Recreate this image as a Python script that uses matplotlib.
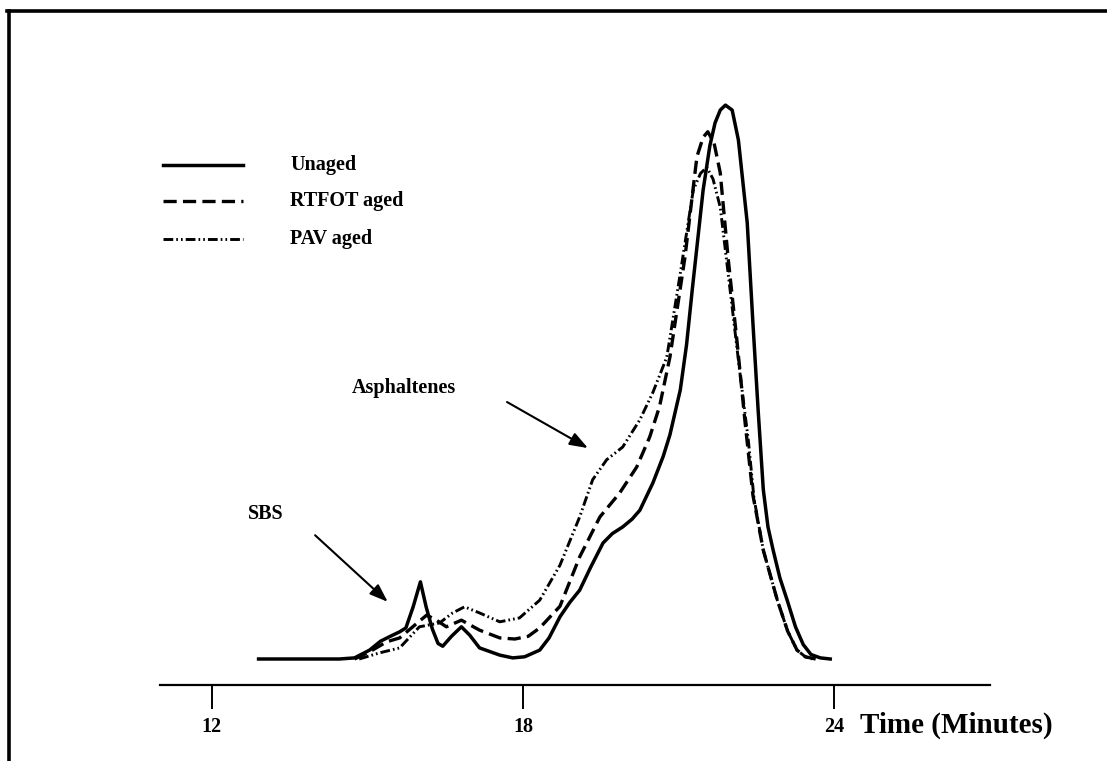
import matplotlib
matplotlib.use("Agg")
import matplotlib.pyplot as plt
from matplotlib.lines import Line2D

plt.rcParams['lines.scale_dashes'] = False

# ---- data (time in minutes, signal in % of unaged peak) ----
unaged_t = [12.90, 14.46, 14.75, 15.04, 15.25, 15.42, 15.62, 15.74, 15.88, 16.02, 16.13, 16.25,
            16.36, 16.45, 16.62, 16.81, 16.97, 17.16, 17.55, 17.80, 18.03, 18.32, 18.50, 18.71,
            18.90, 19.09, 19.30, 19.54, 19.72, 19.92, 20.10, 20.25, 20.50, 20.70, 20.83, 21.03,
            21.15, 21.26, 21.47, 21.60, 21.70, 21.80, 21.90, 22.03, 22.15, 22.32, 22.43, 22.53,
            22.63, 22.72, 22.82, 22.95, 23.09, 23.25, 23.40, 23.55, 23.73, 23.92]
unaged_v = [0.0, 0.0, 0.2, 1.6, 3.2, 4.0, 4.9, 5.6, 9.4, 13.9, 9.4, 5.4,
            2.8, 2.3, 4.1, 5.8, 4.3, 2.0, 0.7, 0.2, 0.4, 1.6, 3.8, 7.6,
            10.2, 12.4, 16.5, 20.9, 22.6, 23.8, 25.2, 26.8, 31.7, 36.5, 40.4, 48.5,
            56.6, 66.5, 84.5, 92.5, 96.6, 98.9, 99.8, 98.9, 93.5, 78.6, 60.5, 44.9,
            30.5, 23.8, 19.6, 14.6, 10.6, 5.8, 2.6, 0.8, 0.2, 0.0]

rtfot_t = [14.75, 15.04, 15.37, 15.62, 15.91, 16.14, 16.33, 16.52, 16.81, 17.16, 17.55, 17.84,
           18.10, 18.32, 18.71, 19.09, 19.48, 19.86, 20.19, 20.44, 20.63, 20.83, 21.12, 21.35,
           21.47, 21.56, 21.68, 21.80, 21.95, 22.12, 22.28, 22.43, 22.63, 22.90, 23.10, 23.28,
           23.44, 23.64]
rtfot_v = [0.0, 1.3, 3.1, 3.8, 6.1, 7.9, 7.0, 5.8, 7.0, 5.2, 3.8, 3.6,
           4.1, 5.6, 9.5, 18.4, 25.6, 29.9, 34.6, 40.0, 45.5, 54.4, 72.4, 90.5,
           94.0, 95.0, 93.0, 87.6, 72.4, 57.5, 42.5, 29.5, 19.6, 10.6, 5.0, 1.6,
           0.4, 0.0]

pav_t = [14.84, 15.23, 15.62, 15.81, 16.00, 16.39, 16.64, 16.87, 17.16, 17.55, 17.93, 18.32,
         18.71, 19.09, 19.34, 19.61, 19.92, 20.25, 20.50, 20.77, 21.03, 21.28, 21.42, 21.54,
         21.66, 21.80, 21.99, 22.18, 22.34, 22.45, 22.63, 22.90, 23.10, 23.28, 23.44, 23.57]
pav_v = [0.0, 1.1, 2.0, 3.9, 5.8, 6.5, 8.3, 9.4, 8.3, 6.7, 7.4, 10.6,
         16.9, 25.6, 32.3, 35.9, 38.2, 43.1, 48.0, 54.4, 69.5, 84.5, 87.5, 88.6,
         86.5, 81.4, 66.5, 51.5, 39.5, 29.0, 19.6, 10.6, 5.0, 1.6, 0.4, 0.0]

series_labels = ["Unaged", "RTFOT aged", "PAV aged"]
tick_values = [12, 18, 24]
tick_labels = ["12", "18", "24"]

W, H = 1107, 761
fig = plt.figure(figsize=(W / 100, H / 100), dpi=100)
fig.patch.set_facecolor("white")

ax_left, ax_right = 160, 990
ax_bottom_px, ax_top_px = 685, 40
ax = fig.add_axes([ax_left / W, 1 - ax_bottom_px / H,
                   (ax_right - ax_left) / W, (ax_bottom_px - ax_top_px) / H])
ax.set_xlim(11, 27)
ax.set_ylim((659 - ax_bottom_px) / 5.55, (659 - ax_top_px) / 5.55)
ax.patch.set_alpha(0)

serif = ["Liberation Serif", "DejaVu Serif"]

styles = [
    dict(color="black", lw=2.5, linestyle="-"),
    dict(color="black", lw=2.4, linestyle=(0, (9.5, 4.5))),
    dict(color="black", lw=2.1, linestyle=(0, (7, 2.2, 1.2, 2.2, 1.2, 2.2))),
]

ax.plot(unaged_t, unaged_v, **styles[0], solid_joinstyle="round")
ax.plot(rtfot_t, rtfot_v, **styles[1])
ax.plot(pav_t, pav_v, **styles[2])

for s in ["left", "right", "top"]:
    ax.spines[s].set_visible(False)
ax.spines["bottom"].set_linewidth(1.6)
ax.set_yticks([])
ax.set_xticks(tick_values)
ax.set_xticklabels(tick_labels, fontfamily=serif, fontweight="bold", fontsize=14.5)
ax.tick_params(axis="x", direction="out", length=17, width=1.4, pad=6)

# legend (manual)
leg_y = [89.0, 82.5, 75.7]
for lab, st, y in zip(series_labels, styles, leg_y):
    ax.plot([11.06, 12.60], [y, y], **st)
    ax.text(13.51, y, lab, fontfamily=serif, fontweight="bold", fontsize=14.5,
            va="center", ha="left")

# annotations
ax.text(12.70, 26.2, "SBS", fontfamily=serif, fontweight="bold", fontsize=14.5,
        va="center", ha="left")
ax.annotate("", xy=(15.39, 10.3), xytext=(13.99, 22.3),
            arrowprops=dict(arrowstyle="-|>,head_length=1.1,head_width=0.4",
                            color="black", lw=1.5, shrinkA=0, shrinkB=0))
ax.text(14.70, 48.8, "Asphaltenes", fontfamily=serif, fontweight="bold", fontsize=14.5,
        va="center", ha="left")
ax.annotate("", xy=(19.25, 38.0), xytext=(17.69, 46.3),
            arrowprops=dict(arrowstyle="-|>,head_length=1.1,head_width=0.4",
                            color="black", lw=1.5, shrinkA=0, shrinkB=0))

fig.text(860 / W, 1 - 733 / H, "Time (Minutes)", fontfamily=serif, fontweight="bold",
         fontsize=21, va="baseline", ha="left")

# page frame (left and top edges)
fig.add_artist(Line2D([8.5 / W, 8.5 / W], [0, 1 - 11 / H], color="black", lw=2.6,
                      transform=fig.transFigure))
fig.add_artist(Line2D([7 / W, 1], [1 - 11 / H, 1 - 11 / H], color="black", lw=2.6,
                      transform=fig.transFigure))

fig.savefig("out.png", dpi=100)
